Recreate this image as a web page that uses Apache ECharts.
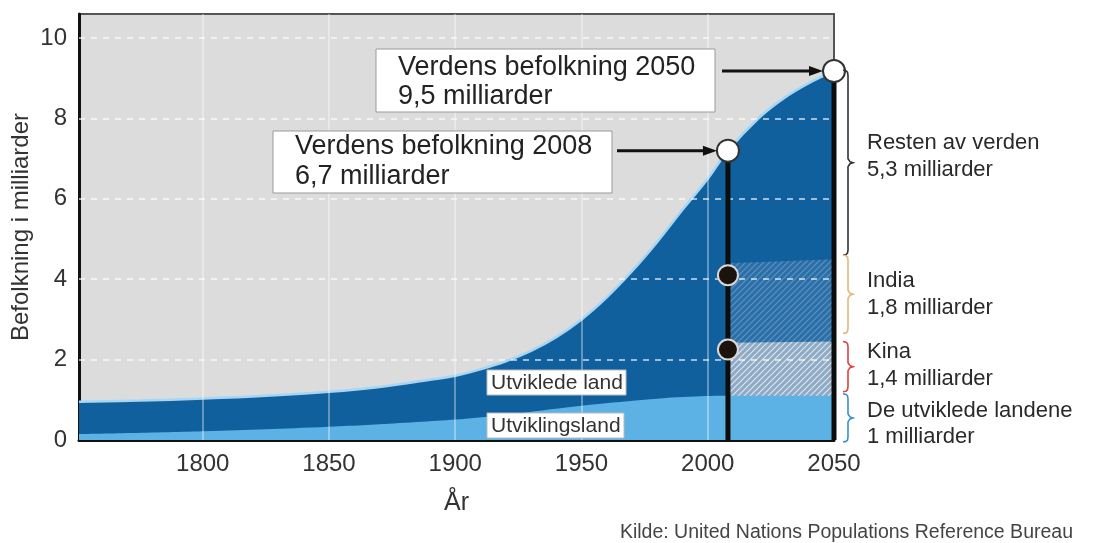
<!DOCTYPE html>
<html><head><meta charset="utf-8">
<script src="https://cdn.jsdelivr.net/npm/echarts@6/dist/echarts.min.js"></script>
<style>html,body{margin:0;padding:0;background:#fff}#c{width:1093px;height:543px}</style>
</head><body><div id="c"></div>
<script>
// ---- data ----
const totalYears = [1751,1775,1800,1825,1850,1870,1890,1900,1910,1920,1930,1940,1950,1960,1970,1980,1990,2000,2008,2020,2030,2040,2050];
const totalPop   = [0.95,0.98,1.03,1.1,1.2,1.32,1.5,1.6,1.76,1.96,2.22,2.56,3.0,3.55,4.2,4.93,5.73,6.5,7.2,8.0,8.5,8.88,9.18];
const devYears = [1751,1800,1850,1880,1913,1950,1975,1990,2008,2050];
const devPop   = [0.15,0.22,0.33,0.43,0.58,0.85,1.0,1.07,1.1,1.1];
const projYears = [2008,2050];
const chinaTop  = [2.42,2.45];
const indiaTop  = [4.4,4.5];
const dotYear = 2008;
const dotValues = [4.1,2.25];
const markYears = [2008,2050];
const markPop   = [7.2,9.18];
const xTicks = [1800,1850,1900,1950,2000,2050];
const yTicks = [0,2,4,6,8,10];
const braces = [ // [top value, bottom value, colour]
  [9.2,4.6,'#333333'],[4.6,2.65,'#e4b77c'],[2.45,1.2,'#d9443f'],[1.15,-0.05,'#3a8fd0']
];
const rightLabels = [
  ['Resten av verden','5,3 milliarder'],
  ['India','1,8 milliarder'],
  ['Kina','1,4 milliarder'],
  ['De utviklede landene','1 milliarder']
];

const FONT = 'Liberation Sans, Arial, Helvetica, sans-serif';
function pairs(xs, ys){ return xs.map((x,i)=>[x, ys[i]]); }
function hatch(bg, fg, size, lw){
  const c=document.createElement('canvas'); c.width=c.height=size;
  const g=c.getContext('2d'); g.fillStyle=bg; g.fillRect(0,0,size,size);
  g.strokeStyle=fg; g.lineWidth=lw; g.beginPath();
  g.moveTo(0,size); g.lineTo(size,0);
  g.moveTo(-size/2,size/2); g.lineTo(size/2,-size/2);
  g.moveTo(size/2,size*1.5); g.lineTo(size*1.5,size/2);
  g.stroke(); return c;
}
const indiaPat = hatch('#2c6ea6','rgba(150,195,232,0.45)',6,1.2);
const chinaPat = hatch('#8eaac4','rgba(240,245,250,0.8)',6,1.2);

const chart = echarts.init(document.getElementById('c'));
const option = {
  animation:false,
  grid:{left:79,right:259,top:14,bottom:103,outerBoundsMode:'none',containLabel:false,show:true,backgroundColor:'#dcdcdc',borderColor:'#555',borderWidth:2},
  xAxis:{type:'value',min:1751,max:2050,
    name:'År',nameLocation:'middle',nameGap:51,nameTextStyle:{fontSize:25,color:'#333',fontFamily:FONT},
    axisLine:{show:true,lineStyle:{color:'#111',width:3}},axisTick:{show:false},splitLine:{show:false},
    axisLabel:{customValues:xTicks,formatter:v=>String(v),fontSize:24,color:'#333',fontFamily:FONT,margin:12}},
  yAxis:{type:'value',min:0,max:10.6,interval:2,
    name:'Befolkning i milliarder',nameLocation:'middle',nameGap:46,nameRotate:90,nameMoveOverlap:false,
    nameTextStyle:{fontSize:24,color:'#333',fontFamily:FONT},
    axisLine:{show:true,lineStyle:{color:'#111',width:3}},axisTick:{show:false},splitLine:{show:false},
    axisLabel:{customValues:yTicks,formatter:v=>String(v),fontSize:24,color:'#333',fontFamily:FONT,margin:12}},
  series:[
    {type:'line',name:'total',data:pairs(totalYears,totalPop),smooth:0.4,symbol:'none',z:1,
      lineStyle:{color:'#a6d6f4',width:2.5},areaStyle:{color:'#11609e',opacity:1}},
    {type:'line',name:'india',data:pairs(projYears,indiaTop),symbol:'none',z:2,
      lineStyle:{width:0},areaStyle:{color:{image:indiaPat,repeat:'repeat'},opacity:1}},
    {type:'line',name:'kina',data:pairs(projYears,chinaTop),symbol:'none',z:2,
      lineStyle:{width:0},areaStyle:{color:{image:chinaPat,repeat:'repeat'},opacity:1}},
    {type:'line',name:'dev',data:pairs(devYears,devPop),smooth:0.4,symbol:'none',z:3,
      lineStyle:{width:0},areaStyle:{color:'#5cb1e5',opacity:1},
      markLine:{silent:true,symbol:['none','none'],label:{show:false},z:5,animation:false,
        data: yTicks.filter(v=>v>0).map(v=>({yAxis:v,lineStyle:{color:'rgba(255,255,255,0.6)',width:2,type:[6,6]}}))
          .concat(xTicks.filter(v=>v<2050).map(v=>({xAxis:v,lineStyle:{color:'rgba(255,255,255,0.35)',width:2,type:'solid'}})))}},
    ...markYears.map((yr,i)=>({type:'line',data:[[yr,0],[yr,markPop[i]]],symbol:'none',z:8,silent:true,
      lineStyle:{color:'#0d0d0d',width:5}})),
    {type:'scatter',data:dotValues.map(v=>[dotYear,v]),symbolSize:20,z:9,
      itemStyle:{color:'#1c140c',borderColor:'#d8d8d8',borderWidth:2,opacity:1}},
    {type:'scatter',data:pairs(markYears,markPop),symbolSize:22,z:9,
      itemStyle:{color:'#ffffff',borderColor:'#333',borderWidth:2,opacity:1}}
  ]
};
chart.setOption(option);

const P = (x,y)=>chart.convertToPixel({gridIndex:0},[x,y]);
const g = [];
function txt(t,x,y,size,opts){ return {type:'text',z:20,style:Object.assign({text:t,x:x,y:y,fill:'#222',font:size+'px '+FONT,verticalAlign:'middle',align:'left'},opts||{})}; }
// annotation boxes
g.push({type:'rect',z:20,shape:{x:376,y:49,width:339,height:63},style:{fill:'#fff',stroke:'#9a9a9a',lineWidth:1}});
g.push(txt('Verdens befolkning 2050',398,68,27));
g.push(txt('9,5 milliarder',398,97,27));
g.push({type:'rect',z:20,shape:{x:273,y:131,width:339,height:62},style:{fill:'#fff',stroke:'#9a9a9a',lineWidth:1}});
g.push(txt('Verdens befolkning 2008',295,147,27));
g.push(txt('6,7 milliarder',295,177,27));
// arrows
[[722,markYears[1],markPop[1]],[617,markYears[0],markPop[0]]].forEach(a=>{
  const p=P(a[1],a[2]); const tip=p[0]-11, y=p[1];
  g.push({type:'line',z:20,shape:{x1:a[0],y1:y,x2:tip-12,y2:y},style:{stroke:'#111',lineWidth:3}});
  g.push({type:'polygon',z:20,shape:{points:[[tip,y],[tip-14,y-5],[tip-14,y+5]]},style:{fill:'#111'}});
});
// braces
braces.forEach(b=>{
  const y1=P(2050,b[0])[1], y2=P(2050,b[1])[1], ym=(y1+y2)/2, x=848;
  const pts=[[x-5,y1],[x-2,y1+0.6],[x-0.5,y1+2],[x,y1+5],[x,ym-4],[x+2,ym-1],[x+5,ym],[x+2,ym+1],[x,ym+4],[x,y2-5],[x-0.5,y2-2],[x-2,y2-0.6],[x-5,y2]];
  g.push({type:'polyline',z:20,shape:{points:pts},style:{stroke:b[2],lineWidth:1.6,fill:null}});
});
// right labels
const labelY=[[143,170],[281,308],[352,379],[411,437]];
rightLabels.forEach((l,i)=>{
  g.push(txt(l[0],867,labelY[i][0],22,{fill:'#2a2a2a'}));
  g.push(txt(l[1],867,labelY[i][1],22,{fill:'#2a2a2a'}));
});
// area labels
g.push({type:'rect',z:20,shape:{x:487,y:370,width:139,height:25},style:{fill:'#fff',stroke:'#bbb',lineWidth:1}});
g.push(txt('Utviklede land',491,383,21,{fill:'#333'}));
g.push({type:'rect',z:20,shape:{x:487,y:413,width:137,height:25},style:{fill:'#fff',stroke:'#bbb',lineWidth:1}});
g.push(txt('Utviklingsland',491,426,21,{fill:'#333'}));
// source
g.push(txt('Kilde: United Nations Populations Reference Bureau',1073,533,19.5,{fill:'#444',align:'right'}));
chart.setOption({graphic:g});
</script></body></html>
